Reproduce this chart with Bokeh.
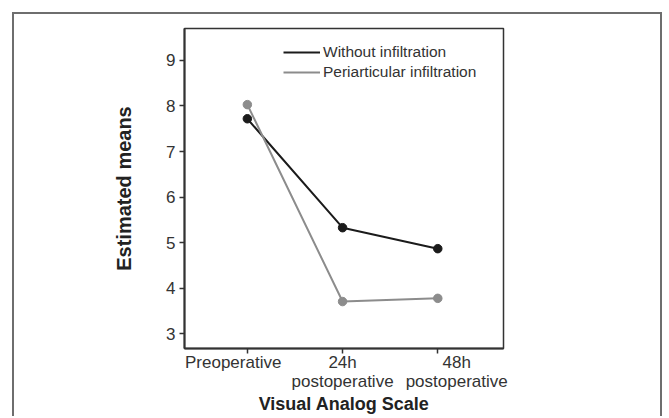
from bokeh.plotting import figure
from bokeh.models import Range1d, FixedTicker, Legend, LegendItem
from bokeh.embed import file_html
from bokeh.resources import INLINE

NB = "\u00a0"
categories = ["Preoperative" + NB * 6,
              "24h\npostoperative",
              NB * 8 + "48h\n" + NB * 8 + "postoperative"]
without_infiltration = [7.72, 5.33, 4.87]
periarticular_infiltration = [8.03, 3.71, 3.78]
y_ticks = [3, 4, 5, 6, 7, 8, 9]

x = list(range(len(categories)))
FONT = "Liberation Sans"
BLACK = "#1b1b1b"
GRAY = "#8c8c8c"

p = figure(
    frame_width=319, frame_height=320,
    min_border_left=170, min_border_right=157, min_border_top=14, min_border_bottom=66,
    output_backend="svg", toolbar_location=None,
    x_range=Range1d(-0.66, 2.69), y_range=Range1d(2.68, 9.70),
)
p.styles = {
    "margin-left": "12px", "margin-top": "12px",
    "border-top": "2px solid #6e6e6e",
    "border-left": "2px solid #6e6e6e",
    "border-right": "2px solid #6e6e6e",
}
p.background_fill_color = "white"
p.border_fill_color = "white"
p.grid.visible = False
p.outline_line_color = "#333333"
p.outline_line_width = 1.5

for ax in (p.xaxis, p.yaxis):
    ax.axis_line_color = "#333333"
    ax.axis_line_width = 2
    ax.major_tick_line_color = "#333333"
    ax.major_tick_line_width = 1.5
    ax.major_tick_out = 5
    ax.major_tick_in = 0
    ax.minor_tick_line_color = None
    ax.major_label_text_font = FONT
    ax.major_label_text_font_size = "17px"
    ax.major_label_text_color = "#333333"
    ax.axis_label_text_font = FONT
    ax.axis_label_text_font_style = "bold"
    ax.axis_label_text_color = "#222222"

p.xaxis.ticker = FixedTicker(ticks=x)
p.xaxis.major_label_overrides = {i: c for i, c in zip(x, categories)}
p.xaxis.major_label_standoff = -1
p.xaxis.major_label_text_line_height = 1.0
p.xaxis.axis_label = "Visual Analog Scale"
p.xaxis.axis_label_text_font_size = "18px"
p.xaxis.axis_label_standoff = 0

p.yaxis.ticker = FixedTicker(ticks=y_ticks)
p.yaxis.major_label_standoff = 4
p.yaxis.axis_label = "Estimated means"
p.yaxis.axis_label_text_font_size = "20px"
p.yaxis.axis_label_standoff = 28

l1 = p.line(x, without_infiltration, line_color=BLACK, line_width=2)
p.scatter(x, without_infiltration, size=8.5, fill_color=BLACK, line_color=BLACK)
l2 = p.line(x, periarticular_infiltration, line_color=GRAY, line_width=2)
p.scatter(x, periarticular_infiltration, size=8.5, fill_color=GRAY, line_color=GRAY)

legend = Legend(
    items=[LegendItem(label="Without infiltration", renderers=[l1]),
           LegendItem(label="Periarticular infiltration", renderers=[l2])],
    location=(99, 266),
    border_line_color=None, background_fill_alpha=0,
    padding=0, margin=0, spacing=0,
    glyph_width=37, glyph_height=20, label_height=20, label_standoff=3,
    label_text_font=FONT, label_text_font_size="15.5px", label_text_color="#333333",
)
p.add_layout(legend)

open("out.html", "w").write(file_html(p, INLINE))
